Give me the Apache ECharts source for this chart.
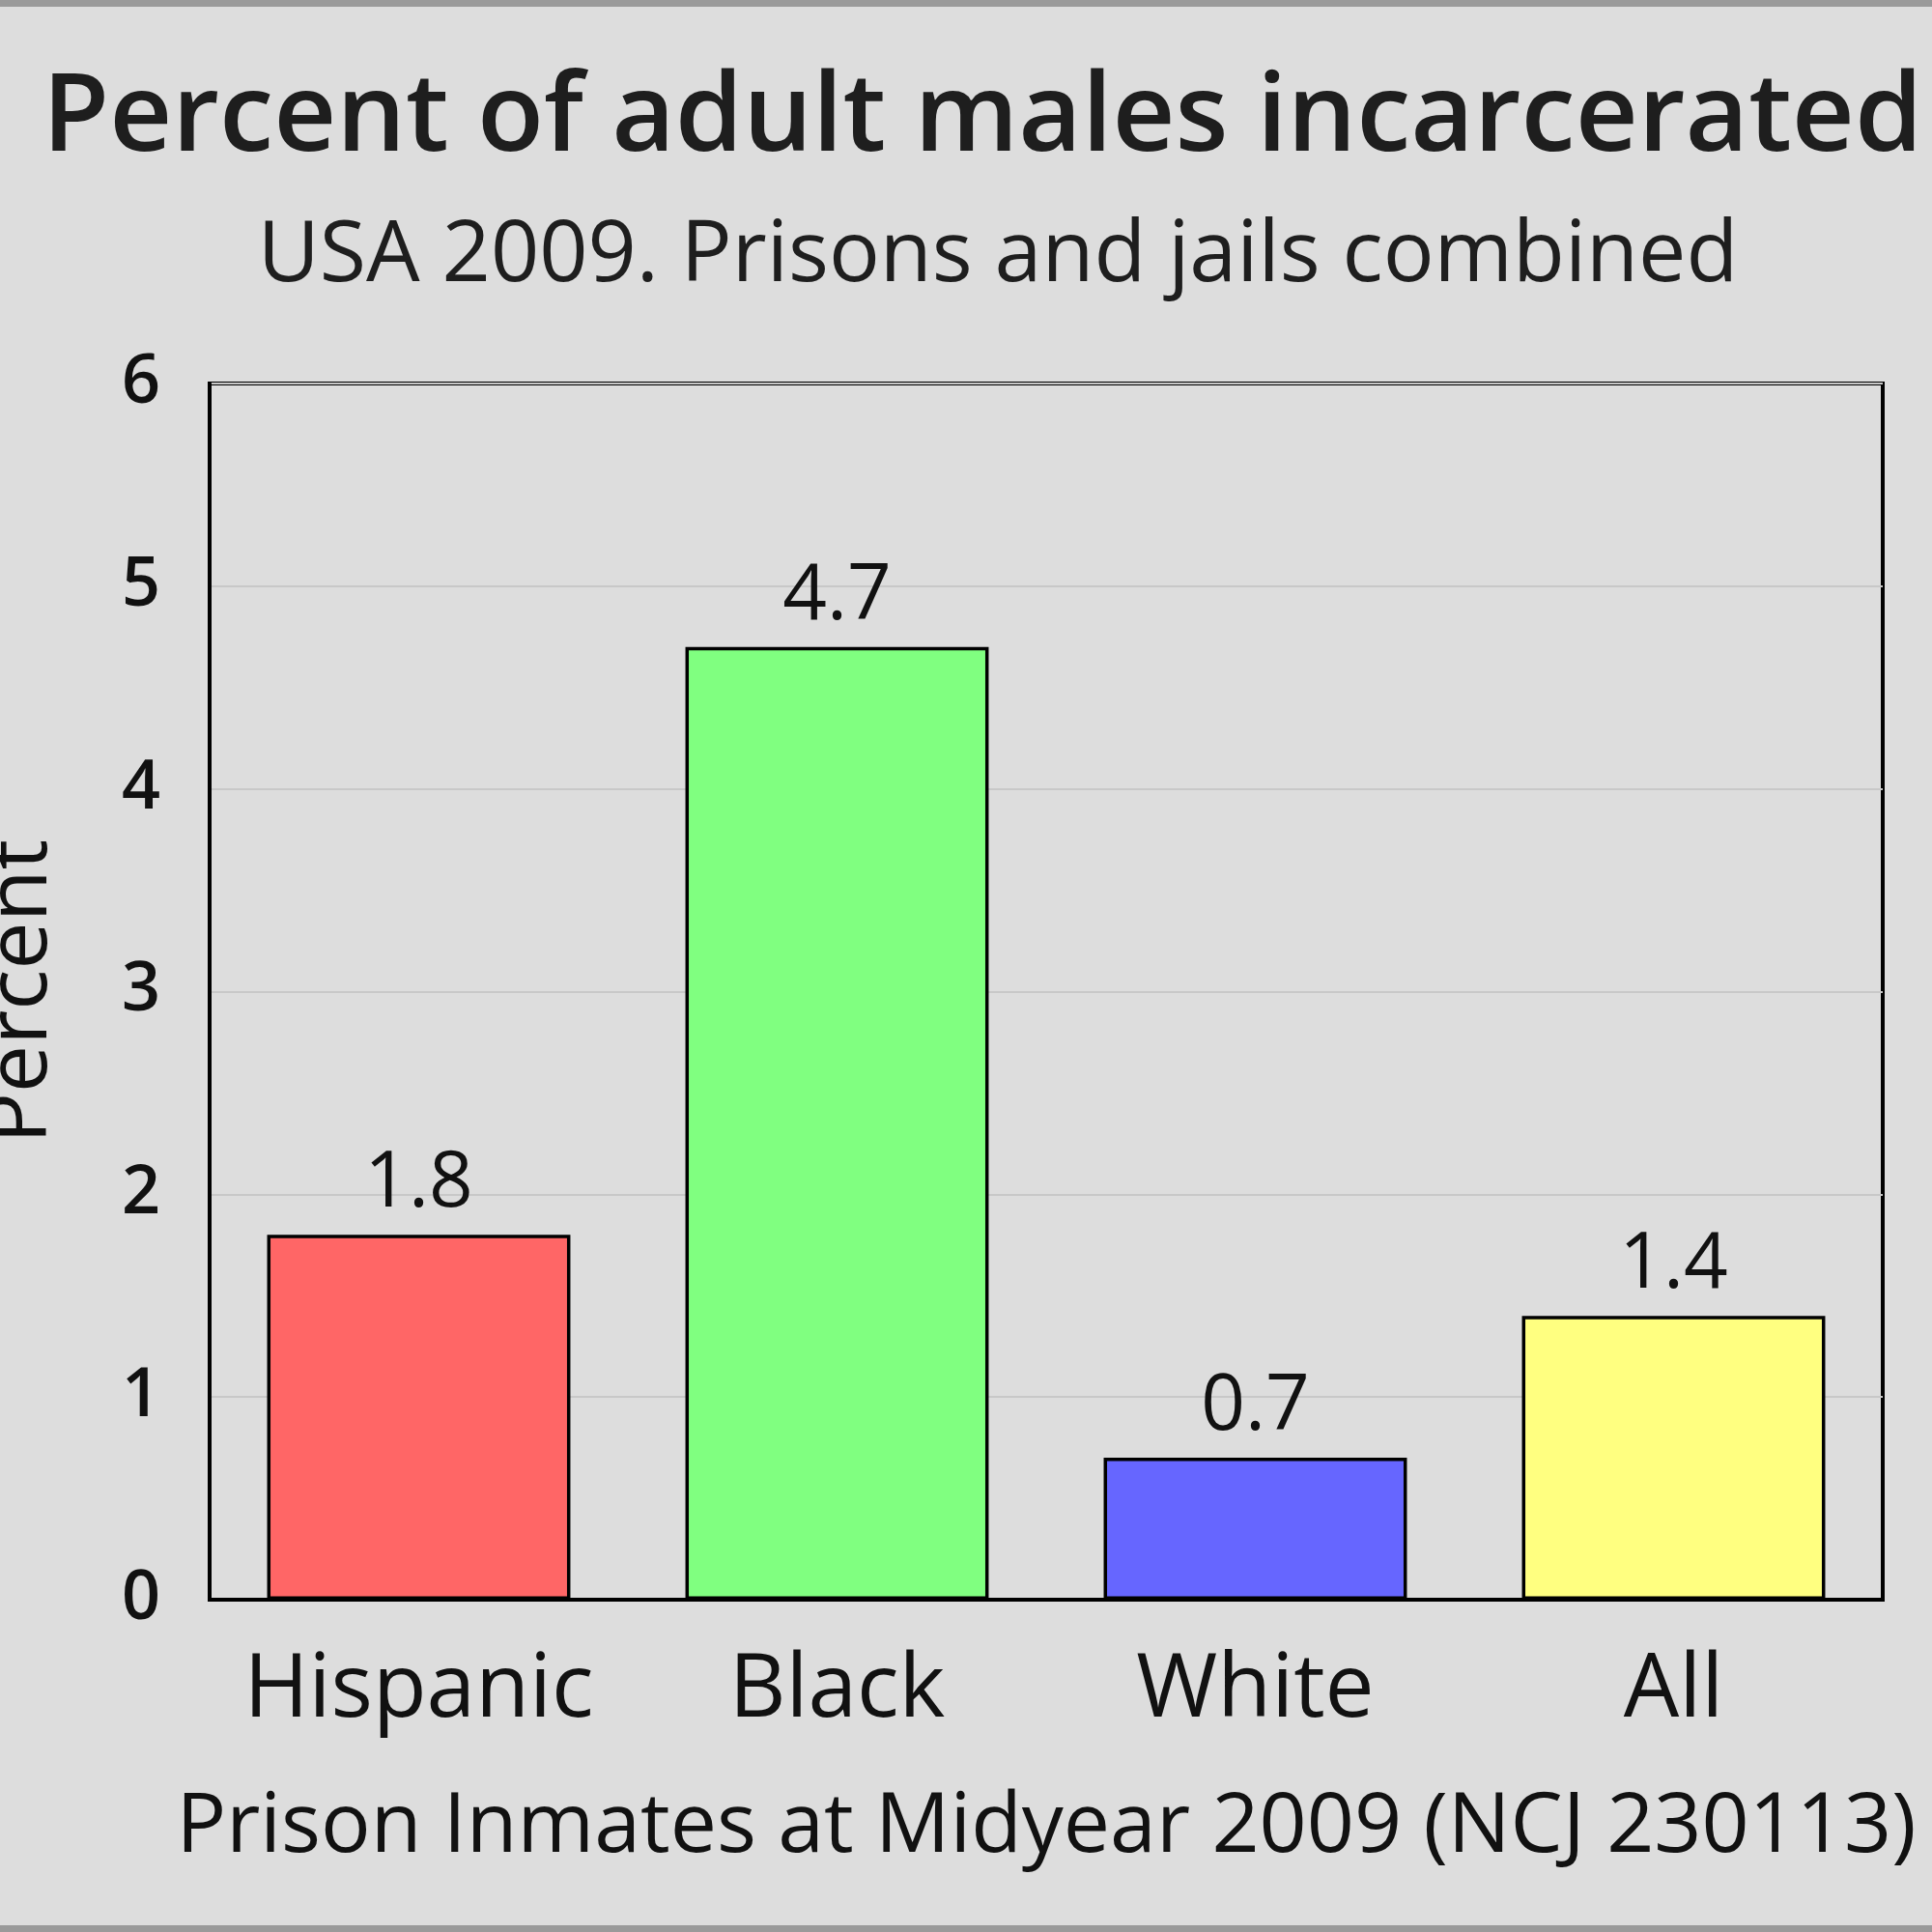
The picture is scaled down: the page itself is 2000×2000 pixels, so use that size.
<!DOCTYPE html>
<html><head><meta charset="utf-8">
<script src="https://cdn.jsdelivr.net/npm/echarts@6/dist/echarts.min.js"></script>
<style>html,body{margin:0;padding:0;background:#dddddd}#c{width:2000px;height:2000px}</style>
</head><body><div id="c"></div>
<script>
const categories = ['Hispanic', 'Black', 'White', 'All'];
const values = [1.8, 4.7, 0.7, 1.4];
const barColors = ['#ff6666', '#80ff80', '#6666ff', '#ffff80'];
const yTicks = [0, 1, 2, 3, 4, 5, 6];
const titleText = 'Percent of adult males incarcerated';
const subtitleText = 'USA 2009. Prisons and jails combined';
const xAxisName = 'Prison Inmates at Midyear 2009 (NCJ 230113)';
const yAxisName = 'Percent';

const FONT = 'Open Sans';
const chart = echarts.init(document.getElementById('c'), null, {renderer: 'canvas'});
chart.setOption({
  backgroundColor: '#dddddd',
  animation: false,
  grid: {left: 217, right: 51, top: 397, bottom: 344, show: true, borderColor: '#000', borderWidth: 4,
         backgroundColor: 'transparent', containLabel: false, outerBoundsMode: 'none'},
  graphic: [
    {type: 'rect', shape: {x: 0, y: 0, width: 2000, height: 7}, style: {fill: '#9a9a9a'}},
    {type: 'rect', shape: {x: 0, y: 1993, width: 2000, height: 7}, style: {fill: '#9a9a9a'}},
    {type: 'text', x: 1017, y: 124, style: {text: titleText, font: '600 113px "Open Sans"', fill: '#1e1e1e', textAlign: 'center', textVerticalAlign: 'middle'}},
    {type: 'text', x: 1033, y: 266, style: {text: subtitleText, font: '400 88px "Open Sans"', fill: '#1e1e1e', textAlign: 'center', textVerticalAlign: 'middle'}}
  ],
  xAxis: {
    type: 'category', data: categories,
    name: xAxisName, nameLocation: 'middle', nameGap: 236,
    nameTextStyle: {fontFamily: FONT, fontSize: 86, color: '#111', fontWeight: 500, verticalAlign: 'middle'},
    axisLine: {show: true, lineStyle: {color: '#000', width: 4}},
    axisTick: {show: false},
    axisLabel: {interval: 0, fontFamily: FONT, fontSize: 91, color: '#111', margin: 50, fontWeight: 500},
    splitLine: {show: false}
  },
  yAxis: {
    type: 'value', min: 0, max: 6, interval: 1,
    name: yAxisName, nameLocation: 'middle', nameGap: 150,
    nameTextStyle: {fontFamily: FONT, fontSize: 88, color: '#111', fontWeight: 500},
    axisLine: {show: true, lineStyle: {color: '#000', width: 4}},
    axisTick: {show: false},
    axisLabel: {fontFamily: FONT, fontSize: 70, color: '#111', margin: 51, fontWeight: 600, formatter: v => yTicks.includes(v) ? String(v) : ''},
    splitLine: {show: true, lineStyle: {color: '#c8c8c8', width: 2}}
  },
  series: [{
    type: 'bar',
    data: values.map((v, i) => ({value: v, itemStyle: {color: barColors[i]}})),
    barWidth: '72.5%',
    itemStyle: {borderColor: '#000', borderWidth: 3.5},
    label: {show: true, position: 'top', distance: 12, fontFamily: FONT, fontSize: 80, color: '#111', fontWeight: 500, formatter: p => p.value.toFixed(1)}
  }]
});
</script></body></html>
